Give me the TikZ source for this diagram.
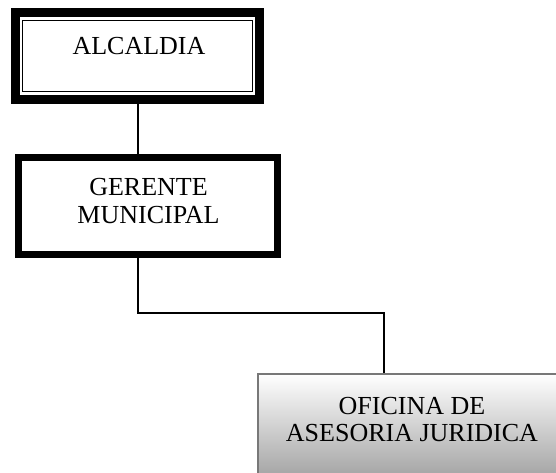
\documentclass[tikz,border=0pt]{standalone}
\usepackage{fontspec}
\setmainfont{Liberation Serif}
\begin{document}
\begin{tikzpicture}[x=1pt,y=-1pt,
  conn/.style={draw=black,line width=1.5pt},
  txt/.style={inner sep=0pt,align=center,font=\fontsize{26}{27.5}\selectfont}]
\useasboundingbox (0,0) rectangle (556,473);
\begin{scope}
\clip (0,0) rectangle (556,473);
% ALCALDIA
\node[draw=black,line width=9pt,minimum width=244pt,minimum height=87pt,inner sep=0pt] (alc) at (137.5,56) {};
\node[draw=black,line width=1.5pt,minimum width=230pt,minimum height=71pt,inner sep=0pt] (alcin) at (137.5,56) {};
\node[txt,anchor=base] (alct) at (139,55) {ALCALDIA};
% GERENTE
\node[draw=black,line width=7pt,minimum width=259pt,minimum height=97pt,inner sep=0pt] (ger) at (148,206) {};
\node[txt,anchor=base,font=\fontsize{26}{28}\selectfont] (gert) at (148.5,223) {GERENTE\\MUNICIPAL};
% OFICINA
\node[draw={rgb,255:red,120;green,120;blue,120},line width=2pt,top color=white,bottom color=gray!72,
  minimum width=304pt,minimum height=104pt,inner sep=0pt] (ofi) at (410,426) {};
\node[txt,anchor=base,font=\fontsize{26}{26.5}\selectfont] (ofit) at (412,441) {OFICINA DE\\ASESORIA JURIDICA};
% connectors
\coordinate (j1) at (138,313);
\coordinate (j2) at (384,313);
\draw[conn] (alc.south -| j1) -- (ger.north -| j1);
\draw[conn] (ger.south -| j1) -- (j1) -- (j2) -- (ofi.north -| j2);
\end{scope}
\end{tikzpicture}
\end{document}
